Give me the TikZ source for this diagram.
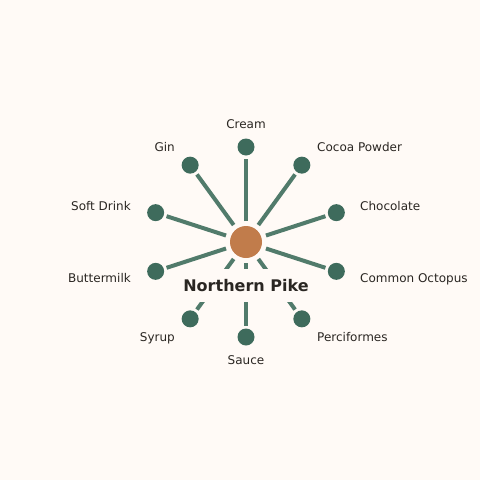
\documentclass[tikz,border=0pt]{standalone}
\usepackage{fontspec}
\setmainfont{DejaVu Sans}
\definecolor{bg}{HTML}{FFFAF6}
\definecolor{spoke}{HTML}{517B6B}
\definecolor{leaf}{HTML}{3E6B5C}
\definecolor{hub}{HTML}{C17C4B}
\definecolor{ink}{HTML}{2A2622}
\begin{document}
\begin{tikzpicture}[x=1pt,y=-1pt,
  hubnode/.style={circle,fill=hub,inner sep=0pt,minimum size=32pt,outer sep=5pt},
  leafnode/.style={circle,fill=leaf,inner sep=0pt,minimum size=17pt,outer sep=3pt},
  spokeline/.style={draw=spoke,line width=4pt},
  lbl/.style={text=ink,font=\fontsize{12}{14}\selectfont,inner sep=0pt},
  title/.style={text=ink,font=\fontsize{16}{19}\selectfont\bfseries,fill=bg,inner xsep=3pt,inner ysep=10pt}]
\fill[bg] (0,0) rectangle (480,480);
\useasboundingbox (0,0) rectangle (480,480);
\node[hubnode] (c) at (246,242) {};
\foreach \k in {0,...,9}{
  \pgfmathsetmacro{\ang}{36*\k}
  \node[leafnode] (o\k) at ({246+95*sin(\ang)},{242-95*cos(\ang)}) {};
  \draw[spokeline] (c) -- (o\k);
}
\node[lbl,anchor=base] (l0) at (246,128.5) {Cream};
\node[lbl,anchor=base west] (l1) at (317,151.5) {Cocoa Powder};
\node[lbl,anchor=base west] (l2) at (360,210.5) {Chocolate};
\node[lbl,anchor=base west] (l3) at (360,282.5) {Common Octopus};
\node[lbl,anchor=base west] (l4) at (317,341.5) {Perciformes};
\node[lbl,anchor=base] (l5) at (246,364.5) {Sauce};
\node[lbl,anchor=base east] (l6) at (175,341.5) {Syrup};
\node[lbl,anchor=base east] (l7) at (131,282.5) {Buttermilk};
\node[lbl,anchor=base east] (l8) at (131,210.5) {Soft Drink};
\node[lbl,anchor=base east] (l9) at (175,151.5) {Gin};
\node[title,anchor=base] (t) at (246,291.5) {Northern Pike};
\end{tikzpicture}
\end{document}
